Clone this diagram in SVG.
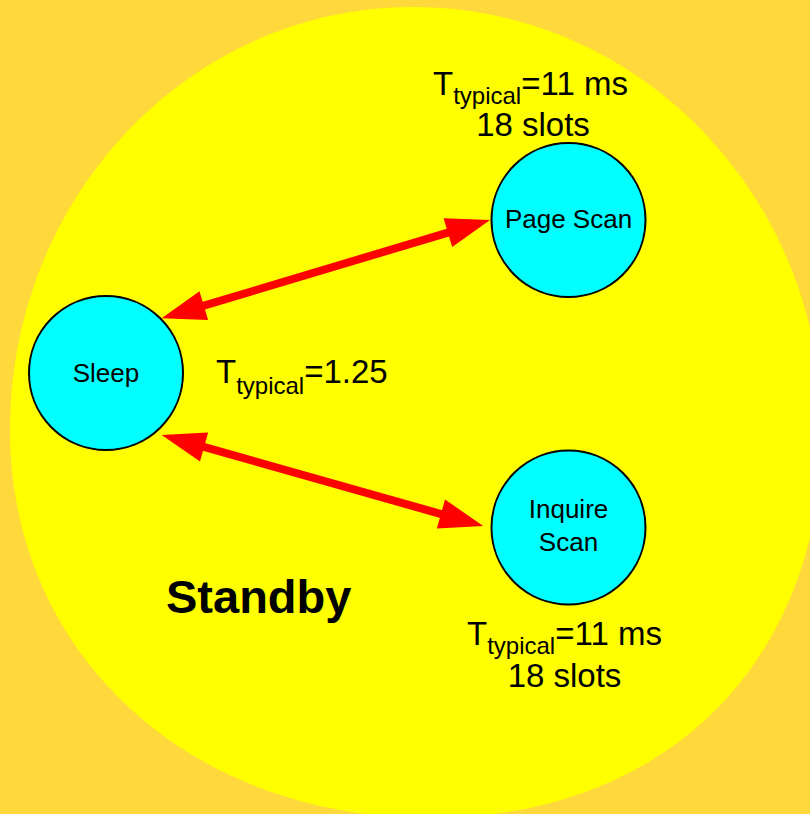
<svg xmlns="http://www.w3.org/2000/svg" width="810" height="814" viewBox="0 0 810 814">
  <style>
    text { font-family: "Liberation Sans", Arial, sans-serif; fill: #000; }
    .node circle { fill: #00FFFF; stroke: #000; stroke-width: 2; }
    .nlabel { font-size: 26px; text-anchor: middle; }
    .big { font-size: 33px; }
    .sub { font-size: 24px; }
    .conn line { stroke: #FF0000; stroke-width: 8; marker-start: url(#head); marker-end: url(#head); }
  </style>
  <defs>
    <marker id="head" markerUnits="userSpaceOnUse" markerWidth="44" markerHeight="30" refX="14" refY="15" orient="auto-start-reverse" overflow="visible">
      <path d="M0,0 L44,15 L0,30 Z" fill="#FF0000"/>
    </marker>
  </defs>
  <rect width="810" height="814" fill="#FFD83C"/>
  <path id="standby-region" d="M413,7 C639,7 822,196 822,430 C822,663 665,818 430,818 C190,818 10,655 10,430 C10,196 190,7 413,7 Z" fill="#FFFF00"/>

  <g id="connectors" class="conn">
    <line x1="190.4" y1="309.7" x2="461.3" y2="228.6"/>
    <line x1="190.6" y1="443.2" x2="454.4" y2="517.8"/>
  </g>

  <g id="sleep" class="node">
    <circle cx="106" cy="373" r="77"/>
    <text class="nlabel" x="106" y="382">Sleep</text>
  </g>
  <g id="page-scan" class="node">
    <circle cx="568.5" cy="220" r="77"/>
    <text class="nlabel" x="568.5" y="228">Page Scan</text>
  </g>
  <g id="inquire-scan" class="node">
    <circle cx="568.5" cy="527.5" r="77"/>
    <text class="nlabel" x="568.5" y="518">Inquire</text>
    <text class="nlabel" x="568.5" y="550.5">Scan</text>
  </g>

  <g id="page-scan-timing">
    <text class="big" x="433" y="95">T<tspan class="sub" dy="9">typical</tspan><tspan dy="-9">=11 ms</tspan></text>
    <text class="big" x="533" y="136" text-anchor="middle">18 slots</text>
  </g>
  <g id="sleep-timing">
    <text class="big" x="216" y="383">T<tspan class="sub" dy="11">typical</tspan><tspan dy="-11">=1.25</tspan></text>
  </g>
  <g id="inquire-scan-timing">
    <text class="big" x="467" y="645">T<tspan class="sub" dy="9">typical</tspan><tspan dy="-9">=11 ms</tspan></text>
    <text class="big" x="564.5" y="687" text-anchor="middle">18 slots</text>
  </g>
  <g id="standby-label">
    <text x="166" y="613" font-size="47" font-weight="bold">Standby</text>
  </g>
</svg>
